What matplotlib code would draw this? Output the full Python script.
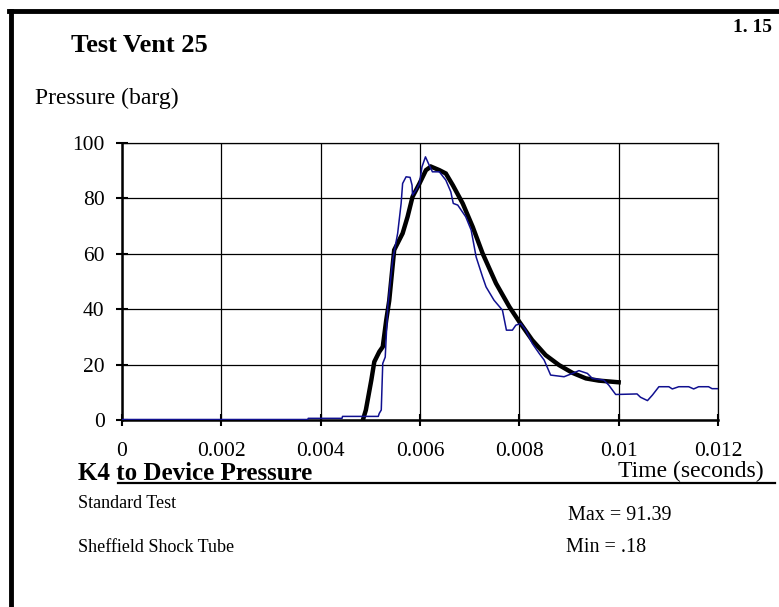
import matplotlib
matplotlib.use("Agg")
import matplotlib.pyplot as plt
from matplotlib.lines import Line2D

plt.rcParams['font.family'] = ['Liberation Serif', 'DejaVu Serif']

# Measured device pressure (thin blue trace)
meas_t = [0.0, 0.00374, 0.00375, 0.00443, 0.00444, 0.00516, 0.00518, 0.00522,
          0.00525, 0.0053, 0.00535, 0.00545, 0.00555, 0.00562, 0.00565, 0.00572,
          0.0058, 0.00584, 0.00585, 0.00592, 0.00599, 0.00604, 0.00611, 0.00617,
          0.00625, 0.00639, 0.00652, 0.00662, 0.00667, 0.00676, 0.00692, 0.00703,
          0.00713, 0.00726, 0.00733, 0.00749, 0.00766, 0.00774, 0.00786, 0.00793,
          0.00803, 0.00813, 0.00826, 0.0084, 0.0085, 0.00863, 0.0089, 0.00907,
          0.0092, 0.00937, 0.00947, 0.0097, 0.0098, 0.00994, 0.01037, 0.01044,
          0.01058, 0.01068, 0.01081, 0.01101, 0.01108, 0.01121, 0.01141, 0.01151,
          0.01161, 0.01181, 0.01188, 0.01205]
meas_p = [0.18, 0.18, 0.6, 0.6, 1.3, 1.3, 2.4, 3.6,
          20.4, 22.7, 40.8, 57.7, 67.3, 78.1, 85.3, 87.7,
          87.5, 84.7, 81.1, 82.9, 85.3, 91.3, 94.9, 92.5,
          89.5, 89.5, 86.5, 82.3, 78.1, 77.5, 73.3, 68.5,
          58.8, 51.6, 48.0, 43.2, 39.6, 32.4, 32.4, 34.2,
          34.8, 32.4, 27.6, 24.0, 21.6, 16.2, 15.6, 16.8,
          17.8, 16.8, 15.0, 14.4, 12.6, 9.2, 9.4, 8.2,
          7.0, 9.0, 12.0, 12.0, 11.2, 12.0, 12.0, 11.2,
          12.0, 12.0, 11.3, 11.3]

# Standard test curve (thick black trace)
std_t = [0.00485, 0.00491, 0.00502, 0.00508, 0.00518, 0.00525, 0.00532, 0.00538,
         0.00548, 0.00565, 0.00575, 0.00585, 0.00599, 0.00612, 0.00622, 0.00639,
         0.00652, 0.00666, 0.00686, 0.00706, 0.00726, 0.00753, 0.0078, 0.008,
         0.00826, 0.00853, 0.0088, 0.00907, 0.00934, 0.0096, 0.01]
std_p = [0.0, 3.6, 14.4, 21.0, 24.6, 26.4, 36.0, 43.0,
         61.3, 67.3, 73.3, 80.5, 85.3, 90.1, 91.39, 90.1,
         88.9, 84.7, 78.1, 69.7, 60.1, 49.3, 40.8, 35.4,
         28.8, 23.4, 19.8, 17.0, 15.0, 14.2, 13.6]

x_ticks = [0, 0.002, 0.004, 0.006, 0.008, 0.01, 0.012]
x_labels = ['0', '0.002', '0.004', '0.006', '0.008', '0.01', '0.012']
y_ticks = [0, 20, 40, 60, 80, 100]

W, H = 779, 607
fig = plt.figure(figsize=(W / 100, H / 100), dpi=100)

def fx(px):
    return px / W

def fy(py):
    return 1 - py / H

ax = fig.add_axes([fx(122), fy(420), fx(718) - fx(122), fy(142.7) - fy(420)])
ax.plot(std_t, std_p, color='black', lw=3.2, solid_joinstyle='miter', zorder=3)
ax.plot(meas_t, meas_p, color='#101090', lw=1.1, zorder=4)

ax.set_xlim(0, 0.012)
ax.set_ylim(0, 100)
ax.set_xticks(x_ticks)
ax.set_xticklabels(x_labels)
ax.set_yticks(y_ticks)
ax.grid(True, color='black', lw=0.9)
ax.set_axisbelow(True)
for s in ('top', 'right'):
    ax.spines[s].set_linewidth(0.9)
for s in ('left', 'bottom'):
    ax.spines[s].set_linewidth(1.8)
ax.tick_params(direction='inout', length=9, width=1.5, labelsize=15.5,
               colors='black')
ax.tick_params(axis='x', pad=11.5)
ax.tick_params(axis='y', pad=8)

# Page frame
fig.add_artist(Line2D([fx(10.5), fx(10.5)], [fy(10.5), 0], color='black', lw=3.5))
fig.add_artist(Line2D([fx(8.5), 1], [fy(10.5), fy(10.5)], color='black', lw=3.5))

fig.text(fx(71), fy(45), 'Test Vent 25', fontsize=19, fontweight='bold', va='center')
fig.text(fx(772), fy(27), '1. 15', fontsize=14, fontweight='bold', va='center', ha='right')
fig.text(fx(35), fy(98), 'Pressure (barg)', fontsize=17, va='center')
fig.text(fx(764), fy(471), 'Time (seconds)', fontsize=17, va='center', ha='right')
fig.text(fx(78), fy(473), 'K4 to Device Pressure', fontsize=18, fontweight='bold', va='center')
fig.add_artist(Line2D([fx(118), fx(775)], [fy(483), fy(483)], color='black', lw=1.6))
fig.text(fx(78), fy(503), 'Standard Test', fontsize=13, va='center')
fig.text(fx(78), fy(547), 'Sheffield Shock Tube', fontsize=13, va='center')
fig.text(fx(568), fy(515), 'Max = 91.39', fontsize=14.5, va='center')
fig.text(fx(566), fy(548), 'Min = .18', fontsize=14.5, va='center')

fig.savefig('out.png', dpi=100)
